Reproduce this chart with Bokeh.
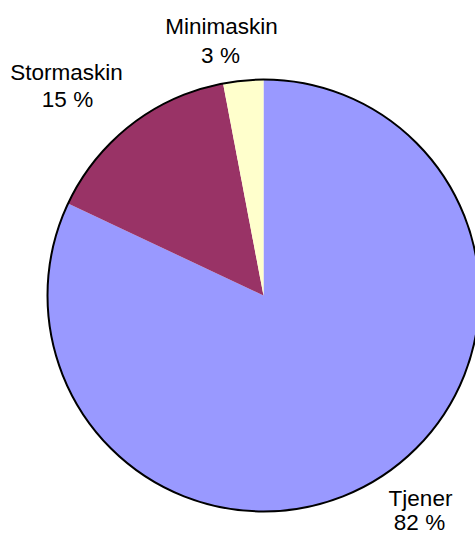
import numpy as np
from bokeh.plotting import figure
from bokeh.models import Range1d, ColumnDataSource
from bokeh.core.properties import value
from bokeh.embed import file_html
from bokeh.resources import INLINE

# data
labels = ["Tjener", "Stormaskin", "Minimaskin"]
shares = [82, 15, 3]
colors = ["#9999FF", "#993366", "#FFFFCC"]

W, H = 475, 536
CX, CY, R = 263, 241, 216

# label anchor positions (layout, vertical centres)
name_x = [420, 66, 221]
name_y = [H - 498, H - 72, H - 26]
pct_x = [419, 67, 220]
pct_y = [H - 522, H - 99, H - 55]

fr = np.array(shares, dtype=float) / sum(shares)
cum = np.concatenate([[0.0], np.cumsum(fr)])
# clockwise from 12 o'clock
ends = np.pi / 2 - 2 * np.pi * cum[:-1]
starts = np.pi / 2 - 2 * np.pi * cum[1:]

p = figure(width=W, height=H, output_backend="svg", toolbar_location=None,
           x_range=Range1d(0, W), y_range=Range1d(0, H), min_border=0)
p.axis.visible = False
p.grid.visible = False
p.outline_line_color = None
p.background_fill_color = "white"
p.border_fill_color = "white"

src = ColumnDataSource(dict(start=starts, end=ends, color=colors,
                            name=labels, pct=[f"{s} %" for s in shares],
                            nx=name_x, ny=name_y, px=pct_x, py=pct_y))
p.wedge(x=CX, y=CY, radius=R, start_angle="start", end_angle="end",
        fill_color="color", line_color=None, direction="anticlock", source=src)
p.circle(x=[CX], y=[CY], radius=R, fill_color=None, line_color="black", line_width=2)
for t, xs, ys in (("name", "nx", "ny"), ("pct", "px", "py")):
    p.text(x=xs, y=ys, text=t, source=src, text_align="center",
           text_baseline="middle", text_font=value("Liberation Sans"),
           text_font_size="22.5px", text_color="black")

open("out.html", "w").write(file_html(p, INLINE))
